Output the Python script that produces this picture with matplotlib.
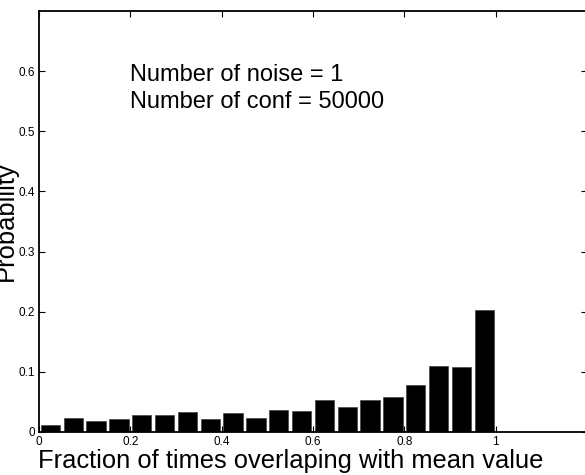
import numpy as np
import matplotlib
matplotlib.use("Agg")
import matplotlib.pyplot as plt

plt.rcParams['font.family'] = ['Liberation Sans', 'DejaVu Sans']

# histogram of overlap fractions, 20 bins of width 0.05
bin_width = 0.05
bin_centers = np.arange(20) * bin_width + bin_width / 2
probability = [0.0117, 0.024, 0.018, 0.021, 0.028, 0.028, 0.033, 0.021, 0.032, 0.024,
               0.036, 0.035, 0.053, 0.041, 0.054, 0.059, 0.078, 0.109, 0.108, 0.203]

x_ticks = [0, 0.2, 0.4, 0.6, 0.8, 1]
x_ticklabels = ['0', '0.2', '0.4', '0.6', '0.8', '1']
y_ticks = [0, 0.1, 0.2, 0.3, 0.4, 0.5, 0.6]
y_ticklabels = ['0', '0.1', '0.2', '0.3', '0.4', '0.5', '0.6']

n_noise = 1
n_conf = 50000

fig = plt.figure(figsize=(5.85, 4.75), dpi=100)
ax = fig.add_axes([39 / 585, 43 / 475, 548 / 585, 421 / 475])

ax.bar(bin_centers, probability, width=0.042, color='black', edgecolor='#444444', linewidth=0.5)

ax.set_xlim(0, 1.2)
ax.set_ylim(0, 0.7)
ax.set_xticks(x_ticks)
ax.set_xticklabels(x_ticklabels)
ax.set_yticks(y_ticks)
ax.set_yticklabels(y_ticklabels)
ax.tick_params(direction='in', length=4, width=0.8, labelsize=8.5, pad=3,
               top=True, right=True)

for s in ax.spines.values():
    s.set_linewidth(1.3)

ax.text(0.199, 0.583, 'Number of noise = %d' % n_noise, fontsize=17, va='baseline')
ax.text(0.199, 0.539, 'Number of conf = %d' % n_conf, fontsize=17, va='baseline')

ax.set_xlabel('Fraction of times overlaping with mean value', fontsize=18.4)
ax.xaxis.label.set_va('baseline')
ax.xaxis.set_label_coords(0.46, -0.0855)

ax.set_ylabel('Probability', fontsize=18.4, rotation_mode='anchor')
ax.yaxis.label.set_va('baseline')
ax.yaxis.label.set_ha('center')
ax.yaxis.set_label_coords(-0.047, 0.5)

fig.savefig('out.png', dpi=100)
